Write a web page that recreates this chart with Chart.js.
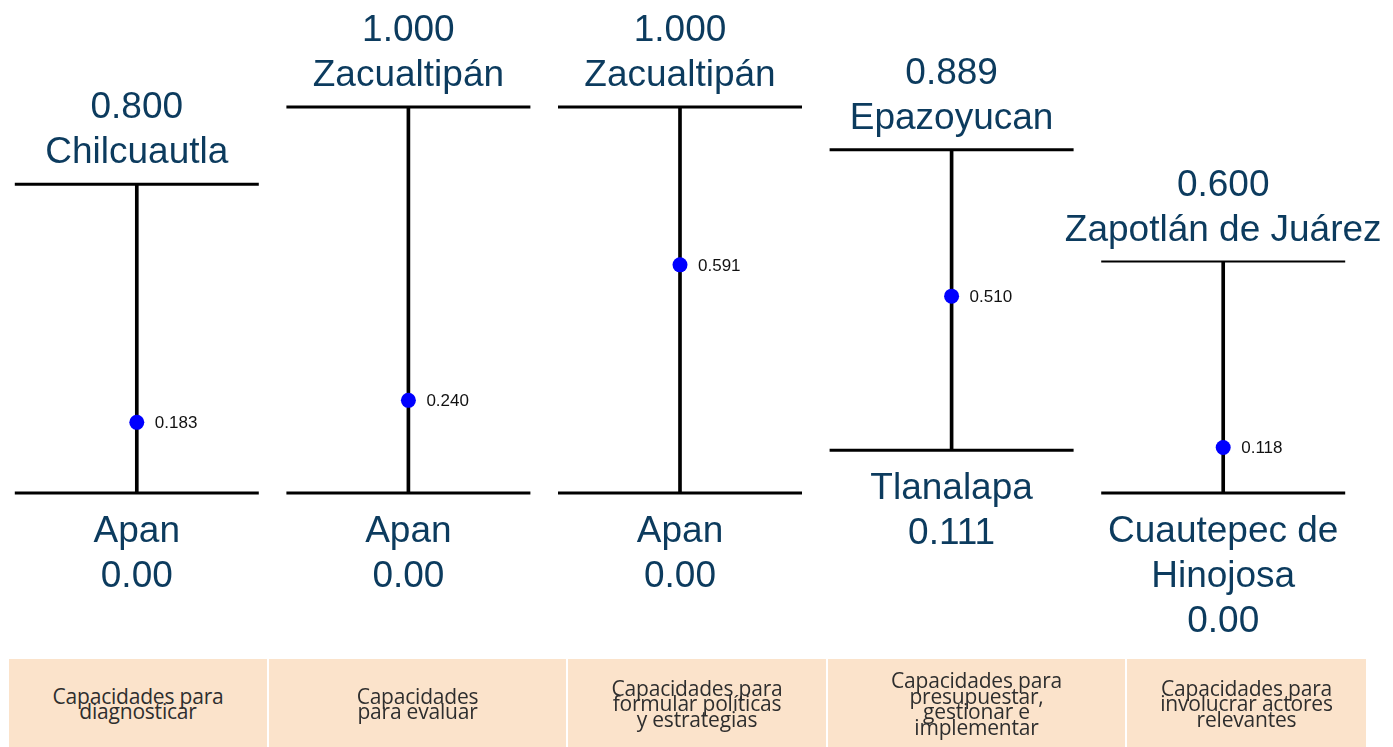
<!DOCTYPE html>
<html>
<head>
<meta charset="utf-8">
<script src="https://cdn.jsdelivr.net/npm/chart.js@4.4.0/dist/chart.umd.min.js"></script>
<style>
  html, body { margin: 0; padding: 0; background: #fff; }
  #wrap { position: relative; width: 1393px; height: 747px; overflow: hidden; }
  #chart { position: absolute; left: 0; top: 0; }
  .band { position: absolute; top: 659px; height: 90px; background: #fbe3cb;
          display: flex; align-items: center; justify-content: center; text-align: center;
          font-family: "Open Sans", Lato, sans-serif; font-size: 21px; line-height: 15.5px;
          color: #2e2e2e; letter-spacing: -0.2px; }
</style>
</head>
<body>
<div id="wrap">
  <canvas id="chart" width="1393" height="747"></canvas>
</div>
<script>
// Chart data
const categories = [
    'Capacidades para<br>diagnosticar',
    'Capacidades<br>para evaluar',
    'Capacidades para<br>formular políticas<br>y estrategias',
    'Capacidades para<br>presupuestar,<br>gestionar e<br>implementar',
    'Capacidades para<br>involucrar actores<br>relevantes'
];
const maxValues = [0.800, 1.000, 1.000, 0.889, 0.600];
const maxNames = [['Chilcuautla'], ['Zacualtipán'], ['Zacualtipán'], ['Epazoyucan'], ['Zapotlán de Juárez']];
const minValues = [0, 0, 0, 0.111, 0];
const minNames = [['Apan'], ['Apan'], ['Apan'], ['Tlanalapa'], ['Cuautepec de', 'Hinojosa']];
const meanValues = [0.183, 0.240, 0.591, 0.510, 0.118];

// band boxes under the chart (left, width)
const bandBoxes = [[9, 258], [269, 297], [568, 258], [828, 297], [1127, 239]];

const wrap = document.getElementById('wrap');
categories.forEach((txt, i) => {
    const d = document.createElement('div');
    d.className = 'band';
    d.style.left = bandBoxes[i][0] + 'px';
    d.style.width = bandBoxes[i][1] + 'px';
    d.innerHTML = '<span>' + txt + '</span>';
    wrap.appendChild(d);
});

function fmt(v) {
    return v === 0 ? '0.00' : v.toFixed(3);
}

const labelColor = '#0c3b5e';

const rangeLabels = {
    id: 'rangeLabels',
    afterDatasetsDraw(chart) {
        const ctx = chart.ctx;
        const x = chart.scales.x;
        const y = chart.scales.y;
        ctx.save();
        ctx.textAlign = 'center';
        ctx.textBaseline = 'middle';
        ctx.fillStyle = labelColor;
        ctx.font = '37px "Liberation Sans", Arial, sans-serif';
        maxValues.forEach((v, i) => {
            const px = x.getPixelForValue(i);
            const top = y.getPixelForValue(v);
            const lines = [fmt(v)].concat(maxNames[i]);
            lines.forEach((t, k) => {
                const off = 31 + (lines.length - 1 - k) * 45;
                ctx.fillText(t, px, top - off);
            });
        });
        minValues.forEach((v, i) => {
            const px = x.getPixelForValue(i);
            const bot = y.getPixelForValue(v);
            const lines = minNames[i].concat([fmt(v)]);
            lines.forEach((t, k) => {
                ctx.fillText(t, px, bot + 39 + k * 45);
            });
        });
        // mean labels
        ctx.textAlign = 'left';
        ctx.fillStyle = '#111';
        ctx.font = '17px "Liberation Sans", Arial, sans-serif';
        meanValues.forEach((v, i) => {
            const px = x.getPixelForValue(i);
            const py = y.getPixelForValue(v);
            ctx.fillText(v.toFixed(3), px + 18, py + 1);
        });
        ctx.restore();
    }
};

const rangeCtx = document.getElementById('chart');
const rangeChart = new Chart(rangeCtx, {
    data: {
        labels: categories.map((c, i) => 'c' + i),
        datasets: [
            {
                type: 'bar',
                data: minValues.map((v, i) => [v, maxValues[i]]),
                backgroundColor: '#000',
                barThickness: 3,
                clip: false,
                order: 3
            },
            {
                type: 'line',
                data: maxValues,
                showLine: false,
                pointStyle: 'line',
                pointRadius: 122,
                pointBorderWidth: [3, 3, 3, 3, 2],
                pointBorderColor: '#000',
                clip: false,
                order: 2
            },
            {
                type: 'line',
                data: minValues,
                showLine: false,
                pointStyle: 'line',
                pointRadius: 122,
                pointBorderWidth: 3,
                pointBorderColor: '#000',
                clip: false,
                order: 2
            },
            {
                type: 'line',
                data: meanValues,
                showLine: false,
                pointStyle: 'circle',
                pointRadius: 7.5,
                pointBackgroundColor: '#0000ff',
                pointBorderColor: '#0000ff',
                pointBorderWidth: 0,
                clip: false,
                order: 1
            }
        ]
    },
    options: {
        responsive: false,
        animation: false,
        layout: {
            autoPadding: false,
            padding: { top: 107, bottom: 254, left: 1, right: 34 }
        },
        plugins: {
            legend: { display: false },
            tooltip: { enabled: false }
        },
        scales: {
            x: { display: false, offset: true },
            y: { display: false, min: 0, max: 1 }
        }
    },
    plugins: [rangeLabels]
});
</script>
</body>
</html>
